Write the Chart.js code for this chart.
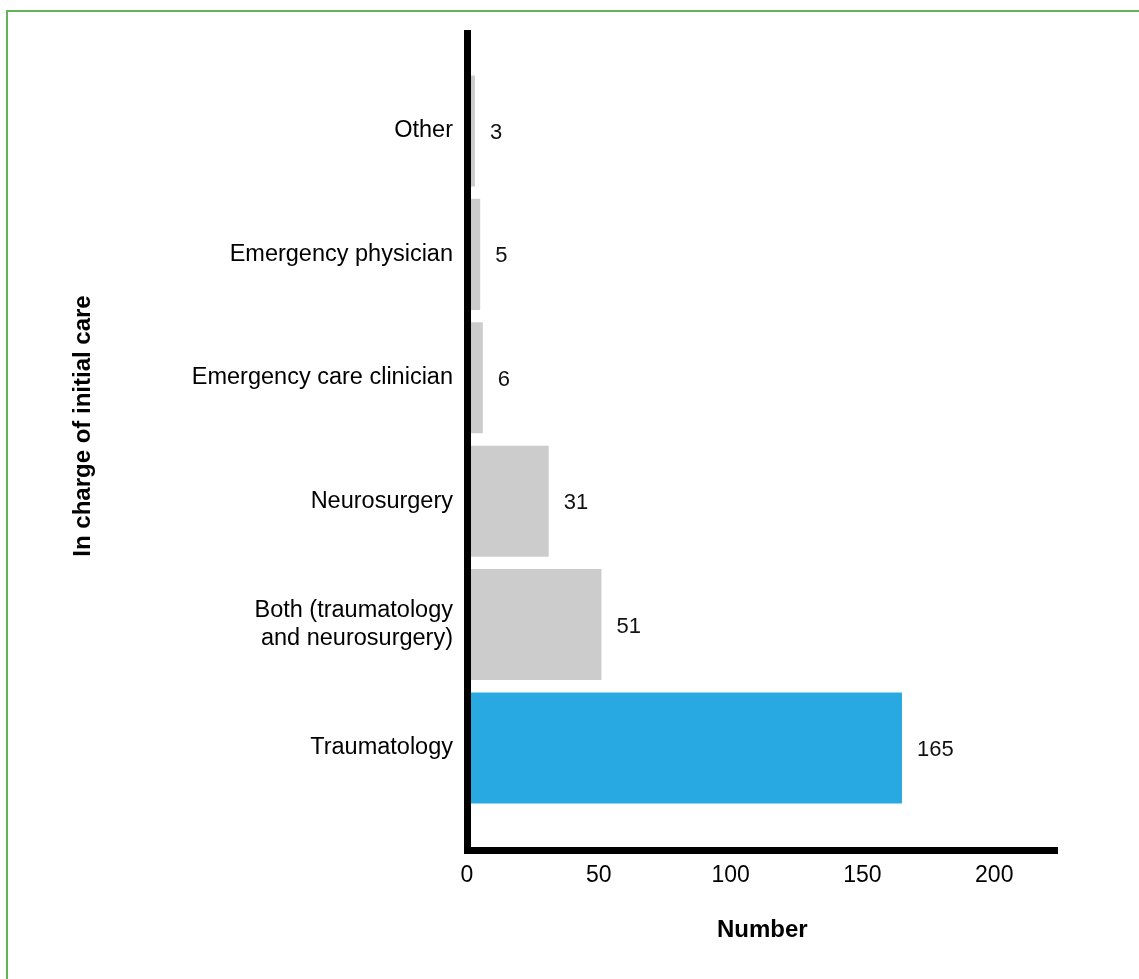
<!DOCTYPE html>
<html>
<head>
<meta charset="utf-8">
<title>In charge of initial care</title>
<script src="https://cdn.jsdelivr.net/npm/chart.js@4/dist/chart.umd.min.js"></script>
<style>
  html, body { margin: 0; padding: 0; background: #ffffff; overflow: hidden; }
  #frame {
    position: absolute; left: 6px; top: 10px; width: 1160px; height: 1000px;
    border-left: 2px solid #62b554; border-top: 2px solid #62b554;
  }
  #chart { position: absolute; left: 0; top: 0; }
</style>
</head>
<body>
<div id="frame"></div>
<canvas id="chart" width="1139" height="979"></canvas>
<script>
// Who is in charge of initial care, number of respondents per answer
const categories = [
  'Other',
  'Emergency physician',
  'Emergency care clinician',
  'Neurosurgery',
  ['Both (traumatology', 'and neurosurgery)'],
  'Traumatology'
];
const counts = [3, 5, 6, 31, 51, 165];
const xTicks = [0, 50, 100, 150, 200];
const highlighted = 'Traumatology';
const yTitle = 'In charge of initial care';
const xTitle = 'Number';

const FONT = '"Liberation Sans", Arial, Helvetica, sans-serif';
const GREY = '#cccccc';
const BLUE = '#29a9e1';

// value labels printed just past the end of each bar
const valueLabels = {
  id: 'valueLabels',
  afterDatasetsDraw(chart) {
    const ctx = chart.ctx;
    const meta = chart.getDatasetMeta(0);
    ctx.save();
    ctx.font = '22px ' + FONT;
    ctx.fillStyle = '#111111';
    ctx.textAlign = 'left';
    ctx.textBaseline = 'middle';
    meta.data.forEach((bar, i) => {
      ctx.fillText(String(counts[i]), bar.x + 15, bar.y + 2);
    });
    ctx.restore();
  }
};

// rotated title of the category axis, set a little above the axis middle
const categoryTitle = {
  id: 'categoryTitle',
  afterDraw(chart) {
    const { ctx, chartArea } = chart;
    ctx.save();
    ctx.translate(83, (chartArea.top + chartArea.bottom) / 2 - 16);
    ctx.rotate(-Math.PI / 2);
    ctx.font = 'bold 24px ' + FONT;
    ctx.fillStyle = '#000000';
    ctx.textAlign = 'center';
    ctx.textBaseline = 'middle';
    ctx.fillText(yTitle, 0, 0);
    ctx.restore();
  }
};

new Chart(document.getElementById('chart'), {
  type: 'bar',
  data: {
    datasets: [{
      data: counts.map((v, i) => ({ x: v, y: i })),
      backgroundColor: ctx => (categories[ctx.dataIndex] === highlighted ? BLUE : GREY),
      borderWidth: 0,
      barPercentage: 0.9,
      categoryPercentage: 1.0
    }]
  },
  options: {
    indexAxis: 'y',
    responsive: false,
    animation: false,
    devicePixelRatio: 1,
    layout: { padding: { top: 33.5, right: 81.5, left: 0, bottom: 0 } },
    plugins: {
      legend: { display: false },
      tooltip: { enabled: false }
    },
    scales: {
      x: {
        type: 'linear',
        position: 'bottom',
        min: 0,
        max: 224,
        offset: false,
        grid: { display: false, drawTicks: false },
        border: { display: true, color: '#000000', width: 7, z: 1 },
        afterBuildTicks: scale => { scale.ticks = xTicks.map(v => ({ value: v })); },
        afterFit: scale => { scale.height = 128.5; },
        ticks: {
          color: '#000000',
          padding: 11,
          font: { family: FONT, size: 23 }
        },
        title: {
          display: true,
          text: xTitle,
          color: '#000000',
          font: { family: FONT, size: 24, weight: 'bold' },
          padding: { top: 0, bottom: 34 }
        }
      },
      y: {
        type: 'linear',
        position: 'left',
        reverse: true,
        offset: false,
        min: -0.79,
        max: 5.831,
        grid: { display: false, drawTicks: false },
        border: { display: true, color: '#000000', width: 7, z: 1 },
        afterBuildTicks: scale => { scale.ticks = categories.map((c, i) => ({ value: i })); },
        afterFit: scale => { scale.width = 467; },
        ticks: {
          color: '#000000',
          padding: 14,
          font: { family: FONT, size: 23.5 },
          callback: value => categories[value]
        },
        title: { display: false }
      }
    }
  },
  plugins: [valueLabels, categoryTitle]
});
</script>
</body>
</html>
